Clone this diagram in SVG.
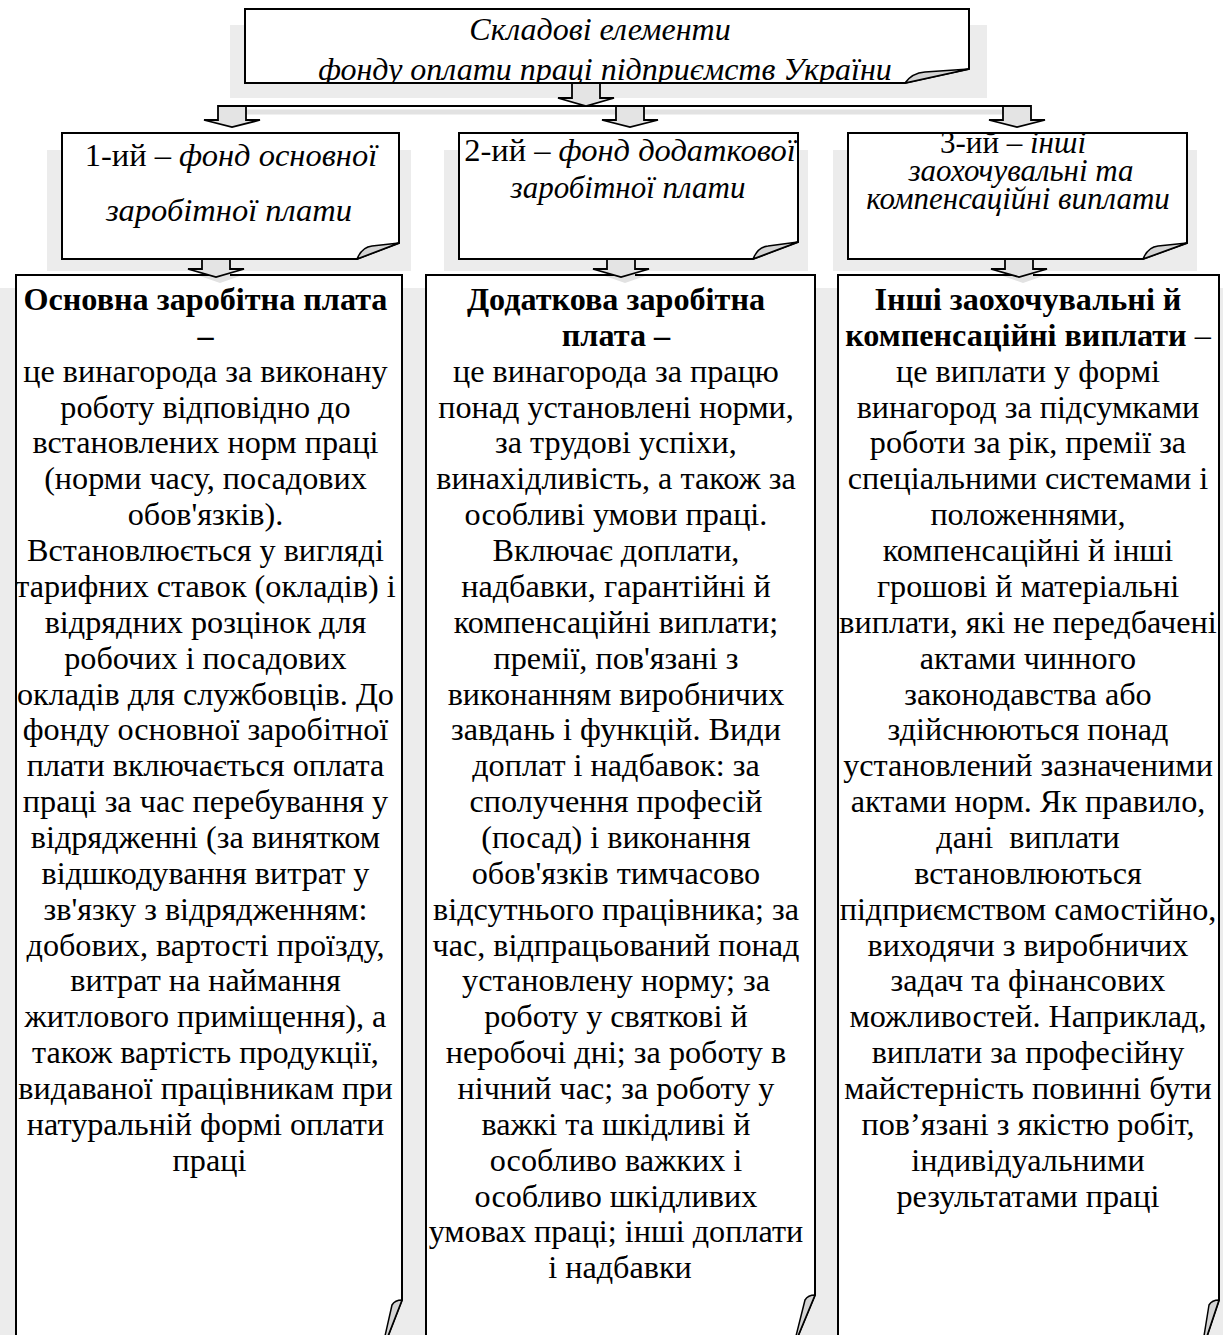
<svg xmlns="http://www.w3.org/2000/svg" width="1223" height="1335" viewBox="0 0 1223 1335">
<style>
.sh{fill:#ececec}
.box{fill:#fff;stroke:#000;stroke-width:2}
.flap{fill:#d4d4d4;stroke:#000;stroke-width:1.5;stroke-linejoin:round}
.arr{fill:#e4e4e4;stroke:#000;stroke-width:1.8;stroke-linejoin:miter}
.ash{fill:#e2e2e2}
.t{font-family:'Liberation Serif','Times New Roman',serif;fill:#000}
.ti{font-style:italic}
.h{font-size:31px}
.hl{font-size:32.5px}
.top{font-size:32px;font-style:italic}
.b{font-size:32.2px;text-anchor:middle}
.bd{font-weight:bold}
</style>
<defs>
<clipPath id="cTop"><rect x="245" y="9" width="724" height="74"/></clipPath>
<clipPath id="cH3"><rect x="848" y="133" width="339" height="126"/></clipPath>
</defs>

<g id="shadows">
<rect class="sh" x="230" y="25" width="757" height="73"/>
<rect class="sh" x="47" y="150" width="364" height="121"/>
<rect class="sh" x="444" y="150" width="364" height="121"/>
<rect class="sh" x="833" y="150" width="364" height="121"/>
<rect class="sh" x="0" y="288" width="419" height="1047"/>
<rect class="sh" x="410" y="288" width="420" height="1047"/>
<rect class="sh" x="822" y="288" width="401" height="1047"/>
</g>

<g id="node-top">
<path class="box" d="M245,9 H969 V69 L905,83 H245 Z"/>
<g clip-path="url(#cTop)">
<text class="t top" x="600" y="40" text-anchor="middle">Складові елементи</text>
<text class="t top" x="605" y="80" text-anchor="middle">фонду оплати праці підприємств України</text>
</g>
<path class="flap" d="M905,83 Q912,73 925,72 L969,69 Z"/>
</g>

<g id="node-h1">
<path class="box" d="M62,133 H399 V243 L357,259 H62 Z"/>
<text class="t hl" x="231" y="166" text-anchor="middle">1-ий – <tspan class="ti">фонд основної</tspan></text>
<text class="t hl ti" x="229" y="221" text-anchor="middle">заробітної плати</text>
<path class="flap" d="M357,259 Q362,247 372,246 L399,243 Z"/>
</g>

<g id="node-h2">
<path class="box" d="M459,133 H798 V242 L753,259 H459 Z"/>
<text class="t hl" x="630" y="161" text-anchor="middle">2-ий – <tspan class="ti">фонд додаткової</tspan></text>
<text class="t h ti" x="628" y="198" text-anchor="middle">заробітної плати</text>
<path class="flap" d="M753,259 Q758,247 768,246 L798,242 Z"/>
</g>

<g id="node-h3">
<path class="box" d="M848,133 H1187 V243 L1143,259 H848 Z"/>
<g clip-path="url(#cH3)">
<text class="t h" x="1013" y="153" text-anchor="middle">3-ий – <tspan class="ti">інші</tspan></text>
<text class="t h ti" x="1021" y="181" text-anchor="middle">заохочувальні та</text>
<text class="t h ti" x="1018" y="209" text-anchor="middle">компенсаційні виплати</text>
</g>
<path class="flap" d="M1143,259 Q1148,247 1158,246 L1187,243 Z"/>
</g>

<g id="node-b1">
<path class="box" d="M16,1336 V275 H402 V1300 L388,1336"/>
<path class="flap" d="M402,1300 Q395,1300 392,1305 L385,1336 L388,1336 Z"/>
<text class="t b">
<tspan class="bd" x="209.5" y="310">Основна заробітна плата</tspan>
<tspan class="bd" x="209.5" y="345.9">–</tspan>
<tspan x="209.5" y="381.7">це винагорода за виконану</tspan>
<tspan x="209.5" y="417.6">роботу відповідно до</tspan>
<tspan x="209.5" y="453.4">встановлених норм праці</tspan>
<tspan x="209.5" y="489.3">(норми часу, посадових</tspan>
<tspan x="209.5" y="525.2">обов'язків).</tspan>
<tspan x="209.5" y="561">Встановлюється у вигляді</tspan>
<tspan x="209.5" y="596.9">тарифних ставок (окладів) і</tspan>
<tspan x="209.5" y="632.7">відрядних розцінок для</tspan>
<tspan x="209.5" y="668.6">робочих і посадових</tspan>
<tspan x="209.5" y="704.5">окладів для службовців. До</tspan>
<tspan x="209.5" y="740.3">фонду основної заробітної</tspan>
<tspan x="209.5" y="776.2">плати включається оплата</tspan>
<tspan x="209.5" y="812">праці за час перебування у</tspan>
<tspan x="209.5" y="847.9">відрядженні (за винятком</tspan>
<tspan x="209.5" y="883.8">відшкодування витрат у</tspan>
<tspan x="209.5" y="919.6">зв'язку з відрядженням:</tspan>
<tspan x="209.5" y="955.5">добових, вартості проїзду,</tspan>
<tspan x="209.5" y="991.3">витрат на наймання</tspan>
<tspan x="209.5" y="1027.2">житлового приміщення), а</tspan>
<tspan x="209.5" y="1063.1">також вартість продукції,</tspan>
<tspan x="209.5" y="1098.9">видаваної працівникам при</tspan>
<tspan x="209.5" y="1134.8">натуральній формі оплати</tspan>
<tspan x="209.5" y="1170.6">праці</tspan>
</text>
</g>

<g id="node-b2">
<path class="box" d="M426,1336 V275 H815 V1295 L798,1336"/>
<path class="flap" d="M815,1295 Q808,1295 805,1300 L796,1336 L798,1336 Z"/>
<text class="t b">
<tspan class="bd" x="620" y="310">Додаткова заробітна</tspan>
<tspan class="bd" x="620" y="345.9">плата –</tspan>
<tspan x="620" y="381.7">це винагорода за працю</tspan>
<tspan x="620" y="417.6">понад установлені норми,</tspan>
<tspan x="620" y="453.4">за трудові успіхи,</tspan>
<tspan x="620" y="489.3">винахідливість, а також за</tspan>
<tspan x="620" y="525.2">особливі умови праці.</tspan>
<tspan x="620" y="561">Включає доплати,</tspan>
<tspan x="620" y="596.9">надбавки, гарантійні й</tspan>
<tspan x="620" y="632.7">компенсаційні виплати;</tspan>
<tspan x="620" y="668.6">премії, пов'язані з</tspan>
<tspan x="620" y="704.5">виконанням виробничих</tspan>
<tspan x="620" y="740.3">завдань і функцій. Види</tspan>
<tspan x="620" y="776.2">доплат і надбавок: за</tspan>
<tspan x="620" y="812">сполучення професій</tspan>
<tspan x="620" y="847.9">(посад) і виконання</tspan>
<tspan x="620" y="883.8">обов'язків тимчасово</tspan>
<tspan x="620" y="919.6">відсутнього працівника; за</tspan>
<tspan x="620" y="955.5">час, відпрацьований понад</tspan>
<tspan x="620" y="991.3">установлену норму; за</tspan>
<tspan x="620" y="1027.2">роботу у святкові й</tspan>
<tspan x="620" y="1063.1">неробочі дні; за роботу в</tspan>
<tspan x="620" y="1098.9">нічний час; за роботу у</tspan>
<tspan x="620" y="1134.8">важкі та шкідливі й</tspan>
<tspan x="620" y="1170.6">особливо важких і</tspan>
<tspan x="620" y="1206.5">особливо шкідливих</tspan>
<tspan x="620" y="1242.4">умовах праці; інші доплати</tspan>
<tspan x="620" y="1278.2">і надбавки</tspan>
</text>
</g>

<g id="node-b3">
<path class="box" d="M838,1336 V275 H1219 V1300 L1207,1336"/>
<path class="flap" d="M1219,1300 Q1212,1300 1209,1305 L1204,1336 L1207,1336 Z"/>
<text class="t b" xml:space="preserve"><tspan class="bd" x="1028" y="310">Інші заохочувальні й</tspan><tspan x="1028" y="345.9"><tspan class="bd">компенсаційні виплати</tspan> –</tspan><tspan x="1028" y="381.7">це виплати у формі</tspan><tspan x="1028" y="417.6">винагород за підсумками</tspan><tspan x="1028" y="453.4">роботи за рік, премії за</tspan><tspan x="1028" y="489.3">спеціальними системами і</tspan><tspan x="1028" y="525.2">положеннями,</tspan><tspan x="1028" y="561">компенсаційні й інші</tspan><tspan x="1028" y="596.9">грошові й матеріальні</tspan><tspan x="1028" y="632.7">виплати, які не передбачені</tspan><tspan x="1028" y="668.6">актами чинного</tspan><tspan x="1028" y="704.5">законодавства або</tspan><tspan x="1028" y="740.3">здійснюються понад</tspan><tspan x="1028" y="776.2">установлений зазначеними</tspan><tspan x="1028" y="812">актами норм. Як правило,</tspan><tspan x="1028" y="847.9">дані  виплати</tspan><tspan x="1028" y="883.8">встановлюються</tspan><tspan x="1028" y="919.6">підприємством самостійно,</tspan><tspan x="1028" y="955.5">виходячи з виробничих</tspan><tspan x="1028" y="991.3">задач та фінансових</tspan><tspan x="1028" y="1027.2">можливостей. Наприклад,</tspan><tspan x="1028" y="1063.1">виплати за професійну</tspan><tspan x="1028" y="1098.9">майстерність повинні бути</tspan><tspan x="1028" y="1134.8">пов’язані з якістю робіт,</tspan><tspan x="1028" y="1170.6">індивідуальними</tspan><tspan x="1028" y="1206.5">результатами праці</tspan></text>
</g>

<g id="connectors">
<line x1="232" y1="112" x2="1017" y2="112" stroke="#e2e2e2" stroke-width="5"/>
<line x1="232" y1="106" x2="1017" y2="106" stroke="#000" stroke-width="2"/>
<polygon class="ash" points="210,268 230,268 230,276 240,276 220,283 200,276 210,276"/>
<polygon class="ash" points="615,268 635,268 635,276 645,276 625,283 605,276 615,276"/>
<polygon class="ash" points="1013,268 1033,268 1033,276 1043,276 1023,283 1003,276 1013,276"/>
<polygon class="arr" points="572,83 600,83 600,98 614,98 586,106 558,98 572,98"/>
<polygon class="arr" points="218,106 246,106 246,120 260,120 232,127 204,120 218,120"/>
<polygon class="arr" points="616,106 644,106 644,120 658,120 630,127 602,120 616,120"/>
<polygon class="arr" points="1003,106 1031,106 1031,120 1045,120 1017,127 989,120 1003,120"/>
<polygon class="arr" points="202,259 230,259 230,269 244,269 216,277 188,269 202,269"/>
<polygon class="arr" points="607,259 635,259 635,269 649,269 621,277 593,269 607,269"/>
<polygon class="arr" points="1005,259 1033,259 1033,269 1047,269 1019,277 991,269 1005,269"/>
</g>
</svg>
